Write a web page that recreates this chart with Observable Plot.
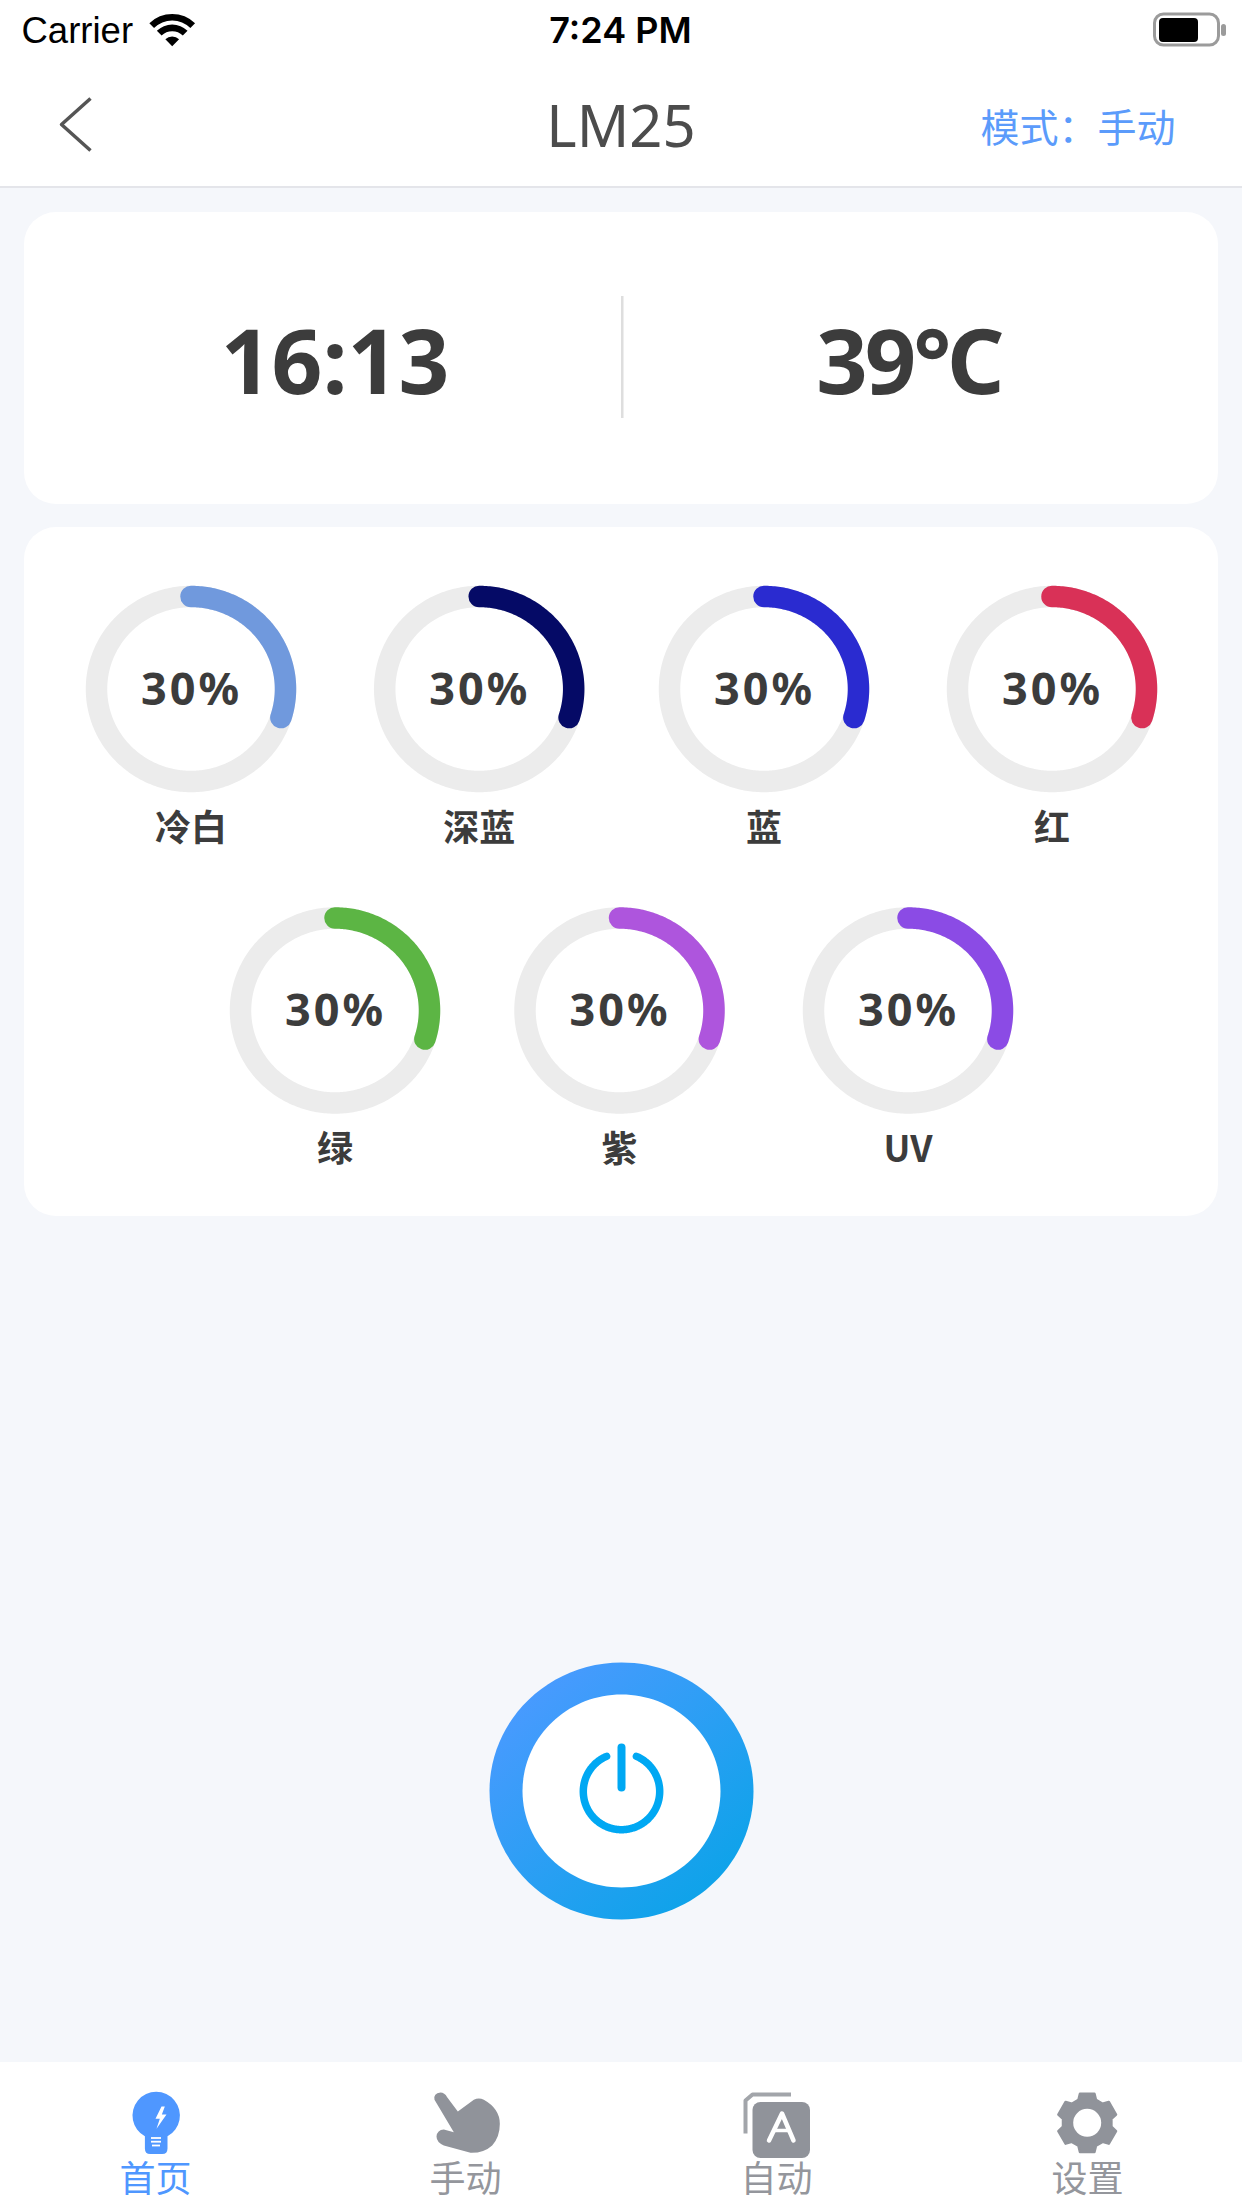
<!DOCTYPE html>
<html>
<head>
<meta charset="utf-8">
<script src="https://cdn.jsdelivr.net/npm/d3@7"></script>
<script src="https://cdn.jsdelivr.net/npm/@observablehq/plot@0.6"></script>
<style>
html,body{margin:0;padding:0;background:#f5f7fb}
svg{display:block}
.pct text{letter-spacing:3px}
.tight text{letter-spacing:-3px}
</style>
</head>
<body>
<div id="app"></div>
<script>
// ---- chart values ----
const channels = ["冷白", "深蓝", "蓝", "红", "绿", "紫", "UV"];
const levels = [30, 30, 30, 30, 30, 30, 30];
const ringColors = ["#7099dd", "#050a66", "#2a2bd0", "#d93157", "#5cb544", "#ae55dd", "#8b4be5"];
const clockText = "16:13";
const temperatureText = "39℃";
const titleText = "LM25";
const modeText = "模式：手动";
const tabLabels = ["首页", "手动", "自动", "设置"];
const tabColors = ["#4f97ff", "#94969c", "#94969c", "#94969c"];

// ---- layout ----
const W = 1242, H = 2208;
const ringX = [190.5, 478.7, 763.5, 1051.5, 334.5, 619, 907.5];
const ringY = [688.5, 688.5, 688.5, 688.5, 1010, 1010, 1010];
const tabX = [155, 465, 776, 1087];
const ringRx = 94.5, ringRy = 92.5;
const CJK = "'Noto Sans CJK SC','Noto Sans',sans-serif";
const LATIN = "'Noto Sans','Noto Sans CJK SC',sans-serif";
const INK = "#3c3c3c", ICON = "#90939a", POWER = "#00a8f3";

function arc(cx, cy, rx, ry, from, to) {
  return d3.range(from, to + 1).map(a => {
    const t = a * Math.PI / 180;
    return {x: cx + rx * Math.sin(t), y: cy - ry * Math.cos(t)};
  });
}
const pathOf = (points, o) => Plot.line(points, {x: d => d[0] ?? d.x, y: d => d[1] ?? d.y, strokeLinecap: "round", strokeLinejoin: "round", curve: "linear", ...o});
const box = (x1, x2, y1, y2, o) => Plot.rect([0], {x1, x2, y1, y2, ...o});
const label = (text, x, y, o) => Plot.text([text], {x, y, text: d => d, ...o});
const icon = (x, y, draw, o) => Plot.dot([0], {x, y, symbol: {draw}, stroke: "none", ...o});
const ellipse = (rx, ry) => ctx => {
  const k = 0.5523;
  ctx.moveTo(rx, 0);
  ctx.bezierCurveTo(rx, k * ry, k * rx, ry, 0, ry);
  ctx.bezierCurveTo(-k * rx, ry, -rx, k * ry, -rx, 0);
  ctx.bezierCurveTo(-rx, -k * ry, -k * rx, -ry, 0, -ry);
  ctx.bezierCurveTo(k * rx, -ry, rx, -k * ry, rx, 0);
  ctx.closePath();
};
const wifi = ctx => {
  const a0 = -3 * Math.PI / 4, a1 = -Math.PI / 4;
  [[25.7, 32.3], [15, 21.7], [0, 9.7]].forEach(([r0, r1]) => {
    ctx.moveTo(r1 * Math.cos(a0), r1 * Math.sin(a0));
    ctx.arc(0, 0, r1, a0, a1);
    if (r0 > 0) ctx.arc(0, 0, r0, a1, a0, true); else ctx.lineTo(0, 0);
    ctx.closePath();
  });
};
const bulb = ctx => {
  const r = 23.7, a0 = Math.atan2(20.8, 11.3), a1 = Math.PI - a0;
  ctx.moveTo(-11.3, 20.8);
  ctx.lineTo(-11.3, 33);
  ctx.quadraticCurveTo(-11.3, 38.5, -6, 38.5);
  ctx.lineTo(6, 38.5);
  ctx.quadraticCurveTo(11.3, 38.5, 11.3, 33);
  ctx.lineTo(11.3, 20.8);
  ctx.arc(0, 0, r, a0, a1, true);
  ctx.closePath();
};
const bolt = ctx => {
  [[153,78],[135,115],[148,115],[138,145],[168,102],[154,102],[163,78]].forEach(([x, y], i) => {
    i ? ctx.lineTo(x / 3, y / 3) : ctx.moveTo(x / 3, y / 3);
  });
  ctx.closePath();
};
const hand = ctx => {
  const m = (x, y) => ctx.moveTo(x / 3, y / 3), l = (x, y) => ctx.lineTo(x / 3, y / 3);
  const q = (a, b, c, d) => ctx.quadraticCurveTo(a / 3, b / 3, c / 3, d / 3);
  m(42, 58); q(38, 38, 60, 36); q(72, 36, 80, 50); l(112, 93); l(160, 58); q(175, 50, 190, 58);
  q(238, 85, 238, 130); q(238, 170, 215, 195); q(190, 218, 150, 217); l(70, 195);
  q(48, 185, 48, 168); q(50, 148, 70, 147); l(100, 155); ctx.closePath();
};
const gear = ctx => {
  let first = true;
  const pt = (r, deg) => {
    const t = deg * Math.PI / 180, x = r * Math.sin(t), y = -r * Math.cos(t);
    first ? ctx.moveTo(x, y) : ctx.lineTo(x, y);
    first = false;
  };
  d3.range(6).forEach(i => {
    const a = i * 60;
    pt(24.5, a - 21); pt(30, a - 14); pt(30, a + 14); pt(24.5, a + 21);
  });
  ctx.closePath();
};
const gradientDefs = () => {
  const defs = d3.create("svg:defs");
  const g = defs.append("linearGradient").attr("id", "powerRing")
    .attr("x1", "0.12").attr("y1", "0.1").attr("x2", "0.85").attr("y2", "0.9");
  g.append("stop").attr("offset", "0").attr("stop-color", "#4a9aff");
  g.append("stop").attr("offset", "1").attr("stop-color", "#0da3e9");
  return defs.node();
};

const ringMarks = channels.flatMap((name, i) => [
  pathOf(arc(ringX[i], ringY[i], ringRx, ringRy, 0, 360), {stroke: "#ececec", strokeWidth: 21.5}),
  pathOf(arc(ringX[i], ringY[i], ringRx, ringRy, 0, levels[i] * 3.6), {stroke: ringColors[i], strokeWidth: 21.5}),
  label(`${levels[i]}%`, ringX[i] + 0.5, ringY[i] + 1.5, {fontFamily: LATIN, fontSize: 45, fontWeight: 700, fill: INK, className: "pct"}),
  label(name, ringX[i], ringY[i] + 140, {fontFamily: CJK, fontSize: 36, fontWeight: 700, fill: INK})
]);

const tabMarks = tabLabels.map((t, i) => label(t, tabX[i], 2180, {fontFamily: CJK, fontSize: 36, fontWeight: 400, fill: tabColors[i]}));

const chart = Plot.plot({
  width: W, height: H,
  marginTop: 0, marginRight: 0, marginBottom: 0, marginLeft: 0,
  x: {domain: [0, W], range: [0, W], axis: null},
  y: {domain: [0, H], range: [0, H], axis: null},
  style: {background: "#f5f7fb"},
  marks: [
    gradientDefs,
    // status and title bars
    box(0, W, 0, 186, {fill: "white"}),
    box(0, W, 186, 188, {fill: "#e4e5ea"}),
    label("Carrier", 21, 31, {textAnchor: "start", fontFamily: "'Liberation Sans'", fontSize: 36.5, fill: "#000"}),
    icon(171.7, 45.7, wifi, {fill: "#000"}),
    label("7:24 PM", 620, 31, {fontFamily: "Inter", fontSize: 36, fontWeight: 600, fill: "#000"}),
    box(1154.5, 1218.5, 14, 45, {fill: "none", stroke: "#9b9b9b", strokeWidth: 3, rx: 9}),
    box(1159, 1198, 18, 42, {fill: "#000", rx: 4}),
    box(1221, 1226, 24, 36, {fill: "#9b9b9b", rx: 2.5}),
    pathOf([[90, 98], [61, 124], [90, 150]], {stroke: "#555", strokeWidth: 3.5, strokeLinecap: "butt"}),
    label(titleText, 620.5, 128, {fontFamily: LATIN, fontSize: 58, fill: "#4c4c4c"}),
    label(modeText, 1077.5, 129, {fontFamily: CJK, fontSize: 39, fontWeight: 400, fill: "#5b9bfb"}),
    // clock card
    box(24, 1218, 212, 504, {fill: "white", rx: 32}),
    label(clockText, 334.5, 365, {fontFamily: LATIN, fontSize: 89, fontWeight: 700, fill: INK}),
    label(temperatureText, 908, 365, {fontFamily: LATIN, fontSize: 90, fontWeight: 700, fill: INK, className: "tight"}),
    box(621, 623.5, 296, 418, {fill: "#dedede"}),
    // channels card
    box(24, 1218, 527, 1216, {fill: "white", rx: 32}),
    ...ringMarks,
    // power button
    icon(621, 1790.5, ellipse(132, 128.5), {fill: "url(#powerRing)"}),
    icon(621, 1790.5, ellipse(99, 96.5), {fill: "white"}),
    pathOf(arc(621, 1791, 38.2, 38.2, 23, 337), {stroke: POWER, strokeWidth: 7.5}),
    pathOf([[621, 1747], [621, 1787]], {stroke: POWER, strokeWidth: 8}),
    // tab bar
    box(0, W, 2062, H, {fill: "white"}),
    icon(155.7, 2115, bulb, {fill: "#4f97ff"}),
    icon(110, 2080, bolt, {fill: "white"}),
    pathOf([[150.5, 2137.5], [160.5, 2137.5]], {stroke: "white", strokeWidth: 1.8, strokeLinecap: "butt"}),
    pathOf([[150.5, 2141.2], [160.5, 2141.2]], {stroke: "white", strokeWidth: 1.8, strokeLinecap: "butt"}),
    pathOf([[151.5, 2145], [159.5, 2145]], {stroke: "white", strokeWidth: 1.8, strokeLinecap: "butt"}),
    icon(420, 2080, hand, {fill: ICON}),
    pathOf([[790.5, 2094], [752, 2094], [745, 2100], [745, 2133]], {stroke: "#a2a5aa", strokeWidth: 4, strokeLinecap: "butt"}),
    box(752.5, 810, 2102, 2158, {fill: ICON, rx: 8}),
    pathOf([[768.5, 2140], [781.5, 2113], [793, 2140]], {stroke: "white", strokeWidth: 4.5}),
    pathOf([[773, 2130], [789, 2130]], {stroke: "white", strokeWidth: 3.5, strokeLinecap: "butt"}),
    icon(1086.7, 2122.3, gear, {fill: ICON, stroke: ICON, strokeWidth: 2.5, strokeLinejoin: "round"}),
    Plot.dot([0], {x: 1086.7, y: 2122.3, r: 14, fill: "white"}),
    ...tabMarks
  ]
});
document.getElementById("app").append(chart);
</script>
</body>
</html>
